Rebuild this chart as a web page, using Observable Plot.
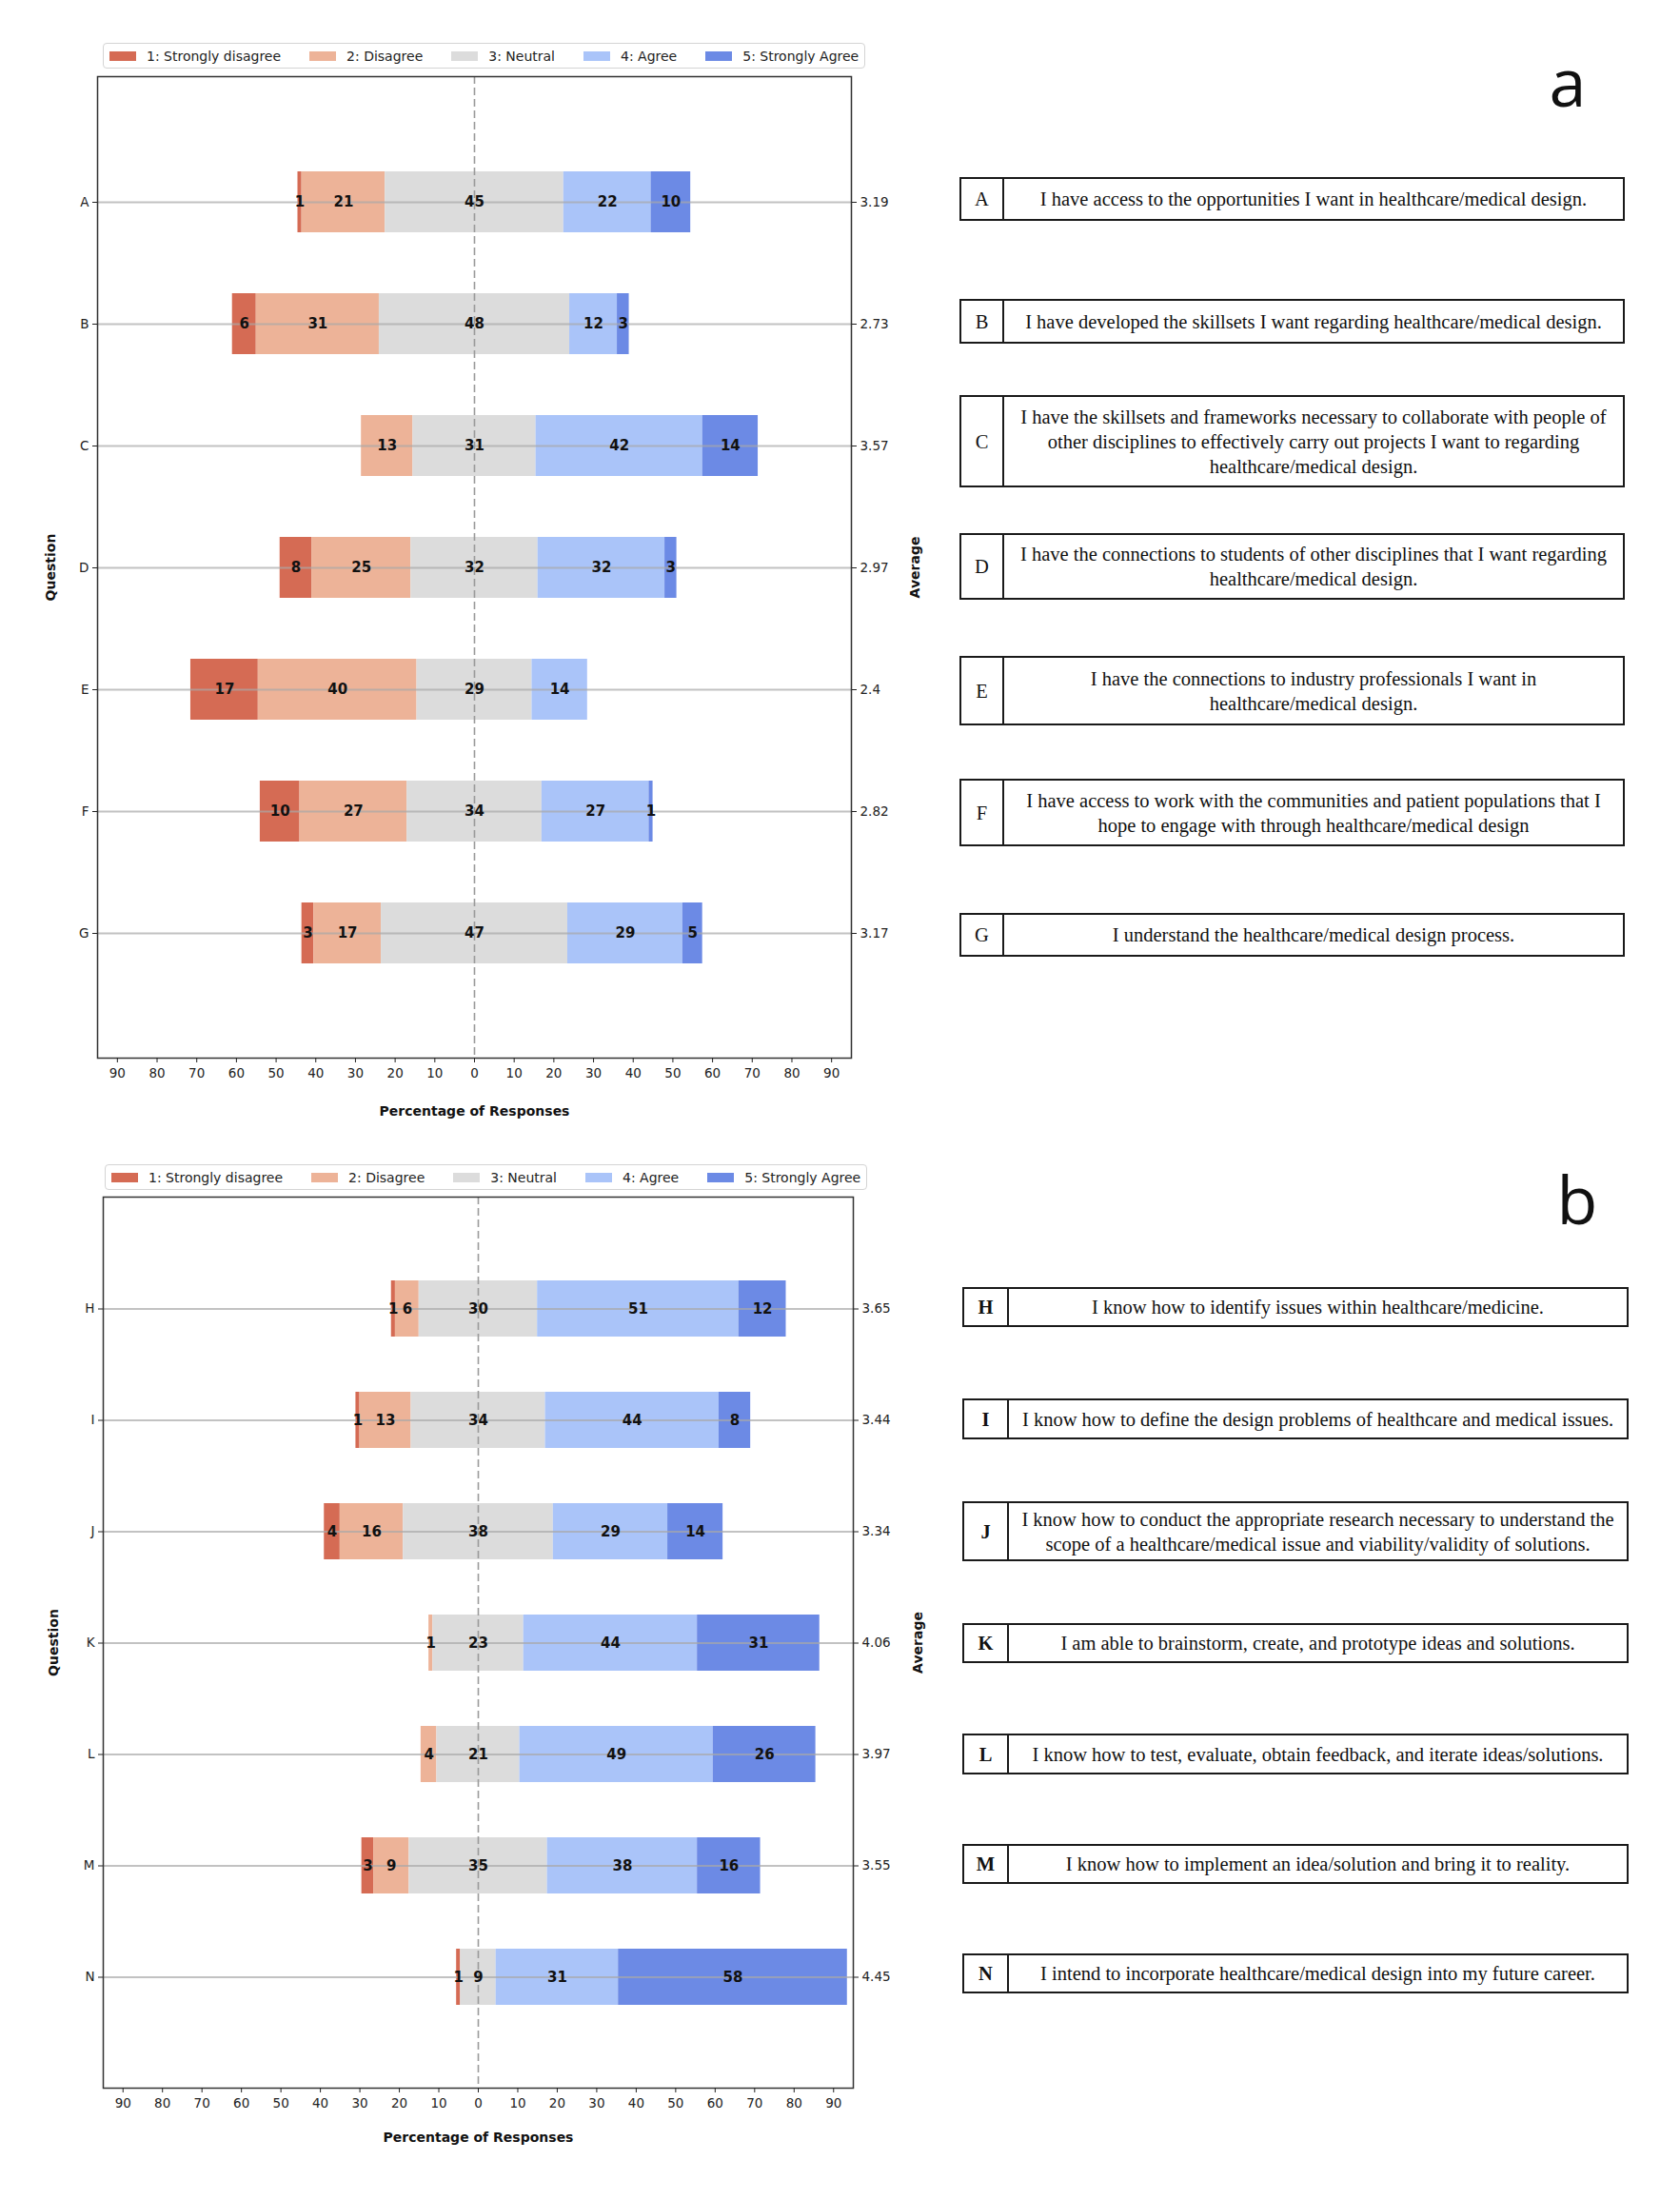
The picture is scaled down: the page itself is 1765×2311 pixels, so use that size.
<!DOCTYPE html>
<html><head><meta charset="utf-8">
<script src="https://cdn.jsdelivr.net/npm/d3@7"></script>
<script src="https://cdn.jsdelivr.net/npm/@observablehq/plot@0.6"></script>
<style>
body{margin:0;background:#fff;}
#page{position:relative;width:1765px;height:2311px;background:#fff;overflow:hidden;font-family:"DejaVu Sans",sans-serif;}
.legend{position:absolute;display:flex;align-items:center;box-sizing:border-box;height:27px;border:1px solid #d4d4d4;border-radius:4px;padding:0 6px;font-size:14px;color:#222;background:#fff;white-space:nowrap;}
.legend .item{display:flex;align-items:center;}
.legend .sw{width:28px;height:10px;margin-right:11px;}
.legend .item + .item{margin-left:30px;}
.box{position:absolute;display:flex;box-sizing:border-box;border:2px solid #1a1a1a;font-family:"Liberation Serif","Times New Roman",serif;font-size:20.5px;color:#111;}
.box .key{display:flex;align-items:center;justify-content:center;border-right:2px solid #1a1a1a;box-sizing:border-box;}
.box .txt{flex:1;display:flex;align-items:center;justify-content:center;text-align:center;white-space:pre-line;}
.panel{position:absolute;font-family:"Open Sans",sans-serif;font-size:70px;line-height:70px;color:#111;transform:translateX(-50%);}
.chart{position:absolute;left:0;}
</style></head>
<body><div id="page"></div>
<script>
// ---------- data ----------
const categories = ["1: Strongly disagree","2: Disagree","3: Neutral","4: Agree","5: Strongly Agree"];
const colors = ["#d56b54","#edb398","#dcdcdc","#aac4f9","#6c8ae5"];
const xTicks = [-90,-80,-70,-60,-50,-40,-30,-20,-10,0,10,20,30,40,50,60,70,80,90];

const questionsA = ["A","B","C","D","E","F","G"];
const stronglyDisagreeA = [1,6,0,8,17,10,3];
const disagreeA = [21,31,13,25,40,27,17];
const neutralA = [45,48,31,32,29,34,47];
const agreeA = [22,12,42,32,14,27,29];
const stronglyAgreeA = [10,3,14,3,0,1,5];
const averagesA = ["3.19","2.73","3.57","2.97","2.4","2.82","3.17"];
const statementsA = [
 "I have access to the opportunities I want in healthcare/medical design.",
 "I have developed the skillsets I want regarding healthcare/medical design.",
 "I have the skillsets and frameworks necessary to collaborate with people of\nother disciplines to effectively carry out projects I want to regarding\nhealthcare/medical design.",
 "I have the connections to students of other disciplines that I want regarding\nhealthcare/medical design.",
 "I have the connections to industry professionals I want in\nhealthcare/medical design.",
 "I have access to work with the communities and patient populations that I\nhope to engage with through healthcare/medical design",
 "I understand the healthcare/medical design process."
];

const questionsB = ["H","I","J","K","L","M","N"];
const stronglyDisagreeB = [1,1,4,0,0,3,1];
const disagreeB = [6,13,16,1,4,9,0];
const neutralB = [30,34,38,23,21,35,9];
const agreeB = [51,44,29,44,49,38,31];
const stronglyAgreeB = [12,8,14,31,26,16,58];
const averagesB = ["3.65","3.44","3.34","4.06","3.97","3.55","4.45"];
const statementsB = [
 "I know how to identify issues within healthcare/medicine.",
 "I know how to define the design problems of healthcare and medical issues.",
 "I know how to conduct the appropriate research necessary to understand the\nscope of a healthcare/medical issue and viability/validity of solutions.",
 "I am able to brainstorm, create, and prototype ideas and solutions.",
 "I know how to test, evaluate, obtain feedback, and iterate ideas/solutions.",
 "I know how to implement an idea/solution and bring it to reality.",
 "I intend to incorporate healthcare/medical design into my future career."
];

// ---------- layout ----------
const page = document.getElementById("page");

function addLegend(left, top) {
  const lg = document.createElement("div");
  lg.className = "legend";
  lg.style.left = left + "px"; lg.style.top = top + "px";
  categories.forEach((c, k) => {
    const it = document.createElement("div"); it.className = "item";
    const sw = document.createElement("div"); sw.className = "sw"; sw.style.background = colors[k];
    const tx = document.createElement("span"); tx.textContent = c;
    it.appendChild(sw); it.appendChild(tx); lg.appendChild(it);
  });
  page.appendChild(lg);
}

function likert(cfg) {
  const {questions, series, averages} = cfg;
  const rows = [];
  questions.forEach((q, i) => {
    const vals = series.map(s => s[i]);
    let x = -(vals[0] + vals[1] + vals[2] / 2);
    vals.forEach((v, k) => { rows.push({q, cat: categories[k], value: v, x1: x, x2: x + v}); x += v; });
  });
  const shown = rows.filter(d => d.value > 0);
  const plot = Plot.plot({
    width: cfg.width, height: cfg.height,
    marginTop: cfg.mt, marginBottom: cfg.mb, marginLeft: cfg.ml, marginRight: cfg.mr,
    style: {fontFamily: "DejaVu Sans, sans-serif", fontSize: "13.5px", color: "#222", background: "white"},
    x: {domain: [-95, 95]},
    y: {domain: questions, paddingInner: 0.5, paddingOuter: 0.75, align: 0.5},
    color: {domain: categories, range: colors},
    marks: [
      Plot.barX(shown, {x1: "x1", x2: "x2", y: "q", fill: "cat"}),
      Plot.ruleY(questions, {y: d => d, stroke: "#a8a8a8", strokeWidth: 2, strokeOpacity: 0.7}),
      Plot.ruleX([0], {stroke: "#9a9a9a", strokeWidth: 1.6, strokeDasharray: "8,4"}),
      Plot.text(shown, {x: d => (d.x1 + d.x2) / 2, y: "q", text: d => String(d.value), fontWeight: "bold", fontSize: 15, fill: "#111"}),
      Plot.frame({stroke: "#333", strokeWidth: 1.5}),
      Plot.axisX({ticks: xTicks, tickFormat: d => Math.abs(d), tickSize: 5, tickPadding: 6, label: null}),
      Plot.axisY({anchor: "left", tickSize: 5, tickPadding: 4, label: null}),
      Plot.axisY({anchor: "right", tickFormat: d => averages[questions.indexOf(d)], tickSize: 5, tickPadding: 4, label: null}),
      Plot.text(["Question"], {frameAnchor: "left", textAnchor: "middle", text: d => d, rotate: -90, dx: cfg.qdx, fontWeight: "bold", fontSize: 14, fill: "#111"}),
      Plot.text(["Average"], {frameAnchor: "right", textAnchor: "middle", text: d => d, rotate: -90, dx: cfg.adx, fontWeight: "bold", fontSize: 14, fill: "#111"}),
      Plot.text(["Percentage of Responses"], {frameAnchor: "bottom", textAnchor: "middle", text: d => d, dy: cfg.xdy, fontWeight: "bold", fontSize: 14, fill: "#111"})
    ]
  });
  const wrap = document.createElement("div");
  wrap.className = "chart"; wrap.style.top = cfg.top + "px";
  wrap.appendChild(plot);
  page.appendChild(wrap);
}

function addBoxes(keys, texts, geom, left, right, keyW, bold) {
  keys.forEach((k, i) => {
    const b = document.createElement("div"); b.className = "box";
    b.style.left = left + "px"; b.style.width = (right - left) + "px";
    b.style.top = geom[i][0] + "px"; b.style.height = (geom[i][1] - geom[i][0]) + "px";
    b.style.lineHeight = "26px";
    const kk = document.createElement("div"); kk.className = "key"; kk.style.width = keyW + "px"; kk.textContent = k;
    if (bold) kk.style.fontWeight = "bold";
    const tt = document.createElement("div"); tt.className = "txt"; tt.textContent = texts[i];
    b.appendChild(kk); b.appendChild(tt); page.appendChild(b);
  });
}

function addPanelLabel(txt, cx, top) {
  const d = document.createElement("div"); d.className = "panel";
  d.style.left = cx + "px"; d.style.top = top + "px"; d.textContent = txt;
  page.appendChild(d);
}

// panel a
addLegend(108, 45);
likert({questions: questionsA, series: [stronglyDisagreeA, disagreeA, neutralA, agreeA, stronglyAgreeA], averages: averagesA,
  top: 76, width: 980, height: 1115, mt: 4, mb: 80, ml: 102, mr: 86, qdx: -49, adx: 67, xdy: 60});
addBoxes(questionsA, statementsA,
  [[186,232],[314,361],[415,512],[560,630],[689,762],[818,889],[959,1005]], 1008, 1707, 45, false);
addPanelLabel("a", 1647, 50);

// panel b
addLegend(110, 1223);
likert({questions: questionsB, series: [stronglyDisagreeB, disagreeB, neutralB, agreeB, stronglyAgreeB], averages: averagesB,
  top: 1252, width: 980, height: 1021, mt: 5, mb: 80, ml: 108, mr: 84, qdx: -52, adx: 68, xdy: 56});
addBoxes(questionsB, statementsB,
  [[1352,1394],[1469,1512],[1577,1640],[1705,1747],[1821,1864],[1937,1979],[2052,2094]], 1011, 1711, 47, true);
addPanelLabel("b", 1657, 1224);
</script></body></html>
